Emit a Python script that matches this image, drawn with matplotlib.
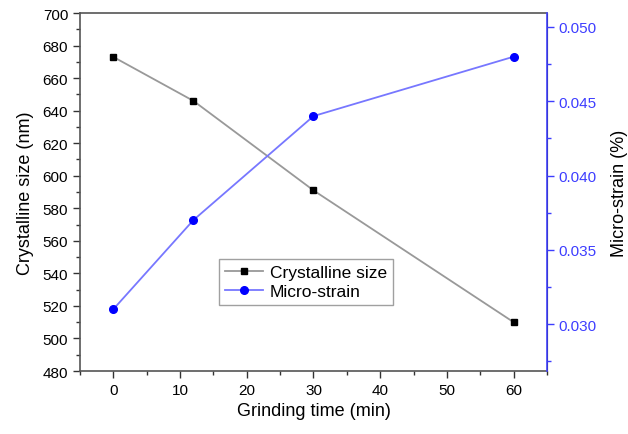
import matplotlib
matplotlib.use("Agg")
import matplotlib.pyplot as plt
from matplotlib.ticker import MultipleLocator

plt.rcParams["font.family"] = ["Liberation Sans", "DejaVu Sans"]

grinding_time = [0, 12, 30, 60]
crystalline_size = [673, 646, 591, 510]
micro_strain = [0.031, 0.037, 0.044, 0.048]

fig = plt.figure(figsize=(6.28, 4.35), dpi=100)
ax = fig.add_axes([0.1274, 0.1448, 0.7436, 0.823])
ax2 = ax.twinx()

l1, = ax.plot(grinding_time, crystalline_size, color="#999999", lw=1.3,
              marker="s", ms=5, mfc="black", mec="black", label="Crystalline size")
l2, = ax2.plot(grinding_time, micro_strain, color="#7777ff", lw=1.3,
               marker="o", ms=5.5, mfc="#0000ff", mec="#0000ff", label="Micro-strain")

ax.set_xlim(-5, 65)
ax.set_ylim(480, 700)
ax2.set_ylim(0.02684, 0.05094)

ax.xaxis.set_major_locator(MultipleLocator(10))
ax.xaxis.set_minor_locator(MultipleLocator(5))
ax.yaxis.set_major_locator(MultipleLocator(20))
ax.yaxis.set_minor_locator(MultipleLocator(10))
ax2.yaxis.set_major_locator(MultipleLocator(0.005))
ax2.yaxis.set_minor_locator(MultipleLocator(0.0025))
ax2.yaxis.set_major_formatter(plt.FormatStrFormatter("%.3f"))

ax.tick_params(axis="both", which="major", direction="out", length=5, width=1,
               labelsize=11, color="#333333")
ax.tick_params(axis="both", which="minor", direction="out", length=3, width=1,
               color="#333333")
ax2.tick_params(axis="y", which="major", direction="out", length=5, width=1,
                labelsize=11, colors="#3d3dff")
ax2.tick_params(axis="y", which="minor", direction="out", length=3, width=1,
                color="#3d3dff")

for sp in ["left", "bottom", "top"]:
    ax.spines[sp].set_color("#555555")
    ax.spines[sp].set_linewidth(1.2)
ax2.spines["right"].set_color("#4444ff")
ax2.spines["right"].set_linewidth(1.2)
for sp in ["left", "bottom", "top"]:
    ax2.spines[sp].set_visible(False)

ax.set_xlabel("Grinding time (min)", fontsize=13)
ax.set_ylabel("Crystalline size (nm)", fontsize=13, labelpad=6)
ax2.set_ylabel("Micro-strain (%)", fontsize=13, labelpad=10)

leg = ax.legend([l1, l2], ["Crystalline size", "Micro-strain"],
                loc="center", bbox_to_anchor=(0.484, 0.2486), fontsize=12.5,
                frameon=True, fancybox=False, handlelength=2.2,
                borderpad=0.35, labelspacing=0.25, handletextpad=0.4)
leg.get_frame().set_edgecolor("#888888")
leg.get_frame().set_linewidth(1.0)

fig.savefig("out.png", dpi=100)
